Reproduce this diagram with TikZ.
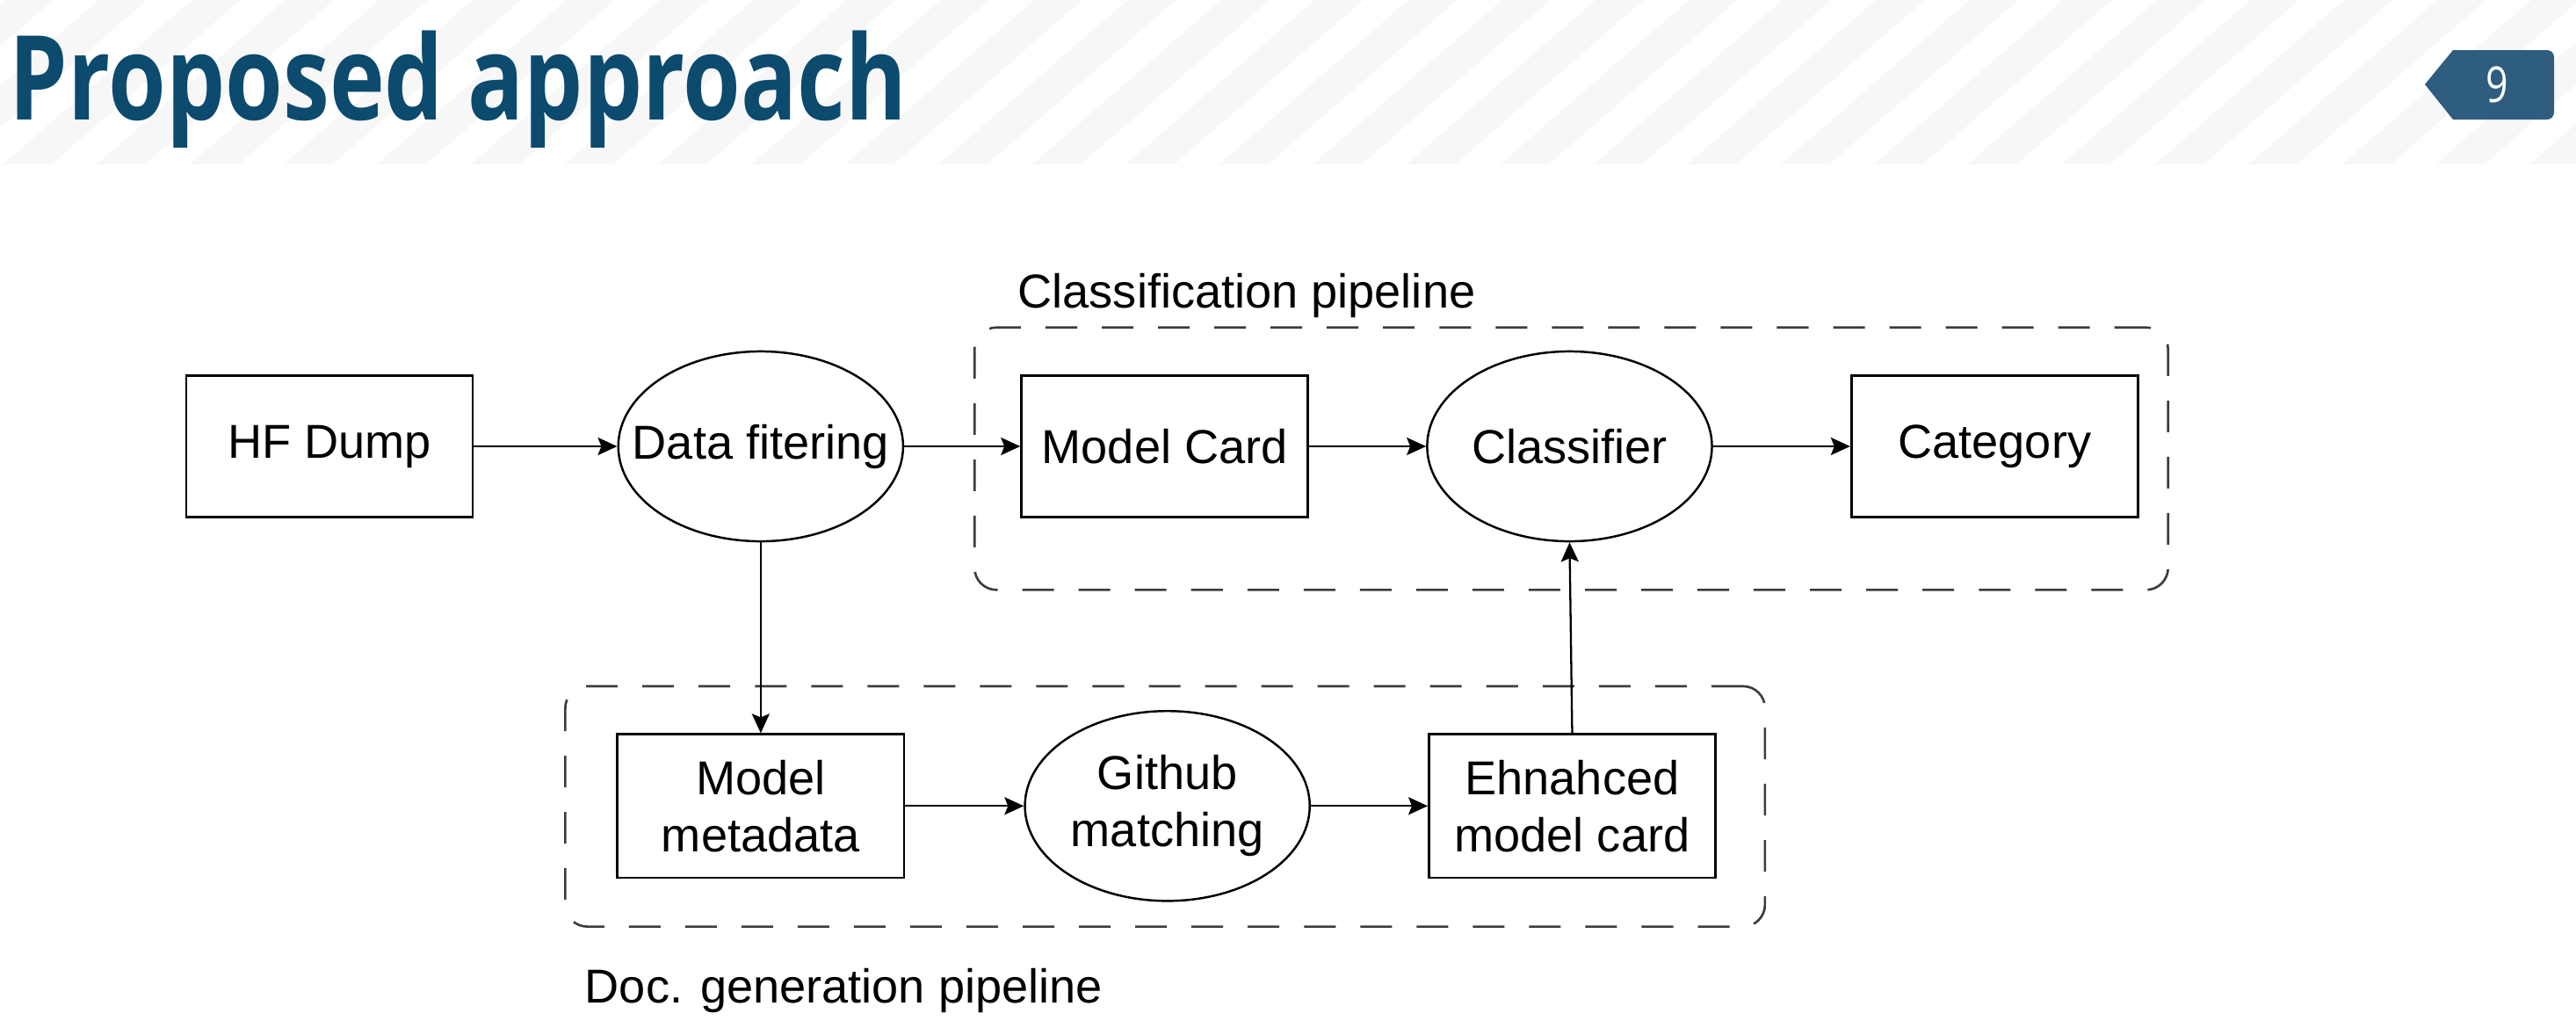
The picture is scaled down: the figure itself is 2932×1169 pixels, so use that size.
\documentclass[tikz,border=0pt]{standalone}
\usepackage{fontspec}
\setmainfont{Liberation Sans}
\newfontfamily\titlefont[FakeStretch=0.795]{Open Sans}
\usepackage{xcolor}
\usepackage{tikz}
\usetikzlibrary{shapes.geometric,arrows.meta,positioning,fit,calc}
\definecolor{titleblue}{RGB}{12,74,110}
\definecolor{badgeblue}{RGB}{46,93,128}
\definecolor{stripegray}{RGB}{247,247,248}
\definecolor{dashgray}{RGB}{60,60,60}
\tikzset{
  proc/.style={rectangle,draw=black,line width=0.75pt,minimum width=3.26cm,minimum height=1.61cm,
               align=center,inner sep=0pt,font=\fontsize{15.4}{18.5}\selectfont},
  op/.style={ellipse,draw=black,line width=0.7pt,minimum width=3.24cm,minimum height=2.16cm,
               align=center,inner xsep=-0.6cm,inner ysep=0pt,font=\fontsize{15.4}{18.5}\selectfont},
  grp/.style={rectangle,rounded corners=0.25cm,draw=dashgray,line width=0.75pt,
               dash pattern=on 0.36cm off 0.28cm,inner sep=0pt},
  lbl/.style={inner sep=0pt,font=\fontsize{15.4}{18.5}\selectfont},
  flow/.style={-{Stealth[length=0.22cm,width=0.2cm,inset=0.04cm]},line width=0.65pt},
}

\begin{document}
\begin{tikzpicture}[x=0.01cm,y=-0.01cm,
   pagenum/.style={text=white,inner sep=0pt,font=\titlefont\fontsize{16}{18}\selectfont},
   heading/.style={anchor=base west,inner sep=0pt,text=titleblue,
                 font=\titlefont\bfseries\fontsize{38}{44}\selectfont}
]
  \useasboundingbox (0,0) rectangle (2932,1169);
  \begin{scope}
    \clip (0,0) rectangle (2932,187);
    \foreach \i in {-3,...,28}
      \fill[stripegray] ({3.5+\i*106.5},187) -- ++(55,0) -- ++(215,-187) -- ++(-55,0) -- cycle;
  \end{scope}

  \node[heading] (title) at (10,136) {Proposed approach};
  \fill[badgeblue] (2760,96) -- (2792,57) [rounded corners=0.08cm] -- (2907,57) -- (2907,136)
        [sharp corners] -- (2792,136) -- cycle;
  \node[pagenum] (page) at (2842,96) {9};

  \node[proc] (hf) at (375,508) {HF Dump};
  \node[op,right=1.63cm of hf] (filt) {Data fitering};
  \node[proc,right=1.32cm of filt] (card) {Model Card};
  \node[op,right=1.33cm of card] (clf) {Classifier};
  \node[proc,right=1.56cm of clf] (cat) {Category};
  \node[proc,below=2.17cm of filt,minimum height=1.63cm] (meta) {Model\\metadata};
  \node[op,right=1.35cm of meta] (gith) {Github\\matching};
  \node[proc,right=1.33cm of gith,minimum height=1.63cm] (enh) {Ehnahced\\model card};

  \coordinate (clsnw) at ($(card.west |- clf.north)+(-0.52cm,0.26cm)$);
  \coordinate (clsse) at ($(cat.east |- clf.south)+(0.33cm,-0.54cm)$);
  \node[grp,fit=(clsnw)(clsse)] (clsbox) {};
  \coordinate (docnw) at ($(meta.west |- gith.north)+(-0.58cm,0.27cm)$);
  \coordinate (docse) at ($(enh.east |- gith.south)+(0.55cm,-0.28cm)$);
  \node[grp,fit=(docnw)(docse)] (docbox) {};

  \node[lbl,anchor=base west] (clslbl) at ([xshift=0.5cm,yshift=0.21cm]clsbox.north west) {Classification pipeline};
  \node[lbl,anchor=base west] (doclbl) at ([xshift=0.23cm,yshift=-0.86cm]docbox.south west) {Doc. generation pipeline};

  \draw[flow] (hf) -- (filt);
  \draw[flow] (filt) -- (card);
  \draw[flow] (card) -- (clf);
  \draw[flow] (clf) -- (cat);
  \draw[flow] (filt) -- (meta);
  \draw[flow] (meta) -- (gith);
  \draw[flow] (gith) -- (enh);
  \draw[flow] (enh.north) -- (clf.south);
\end{tikzpicture}
\end{document}
